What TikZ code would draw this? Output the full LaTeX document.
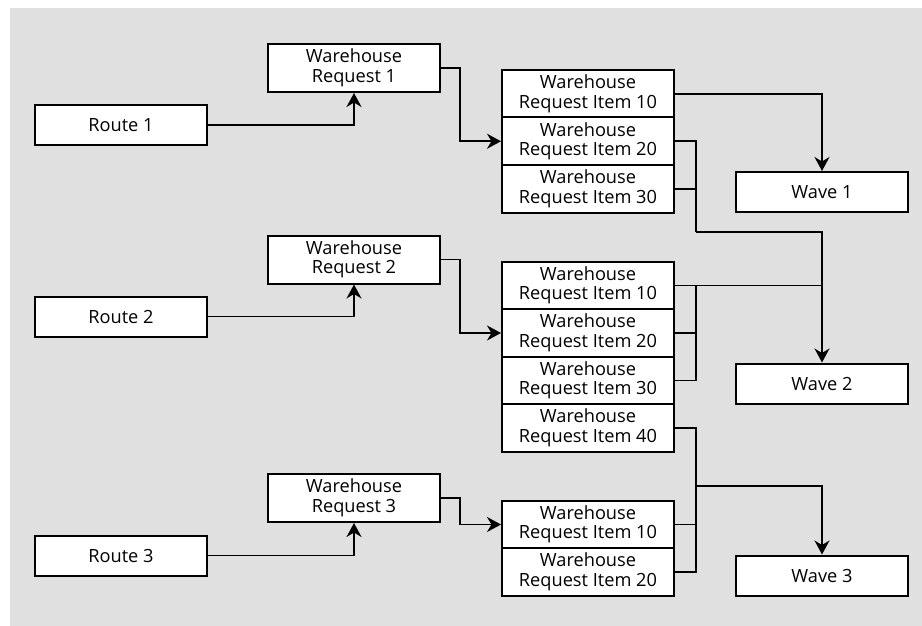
\documentclass[tikz,border=0pt]{standalone}
\usepackage{fontspec}
\setmainfont{Open Sans}
\usetikzlibrary{arrows.meta,calc}
\begin{document}
\begin{tikzpicture}[x=1pt,y=-1pt,
  box/.style={draw=black,fill=white,line width=2pt,minimum width=172pt,inner sep=0pt,align=center,font=\fontsize{18.2}{19.5}\selectfont},
  rbox/.style={box,minimum height=40pt},
  wbox/.style={box,minimum height=48pt},
  ibox/.style={box,minimum height=47.5pt},
  conn/.style={line width=1.8pt,draw=black},
  arr/.style={conn,-{Stealth[length=14pt,width=15pt,inset=4.5pt]}}]
\useasboundingbox (0,0) rectangle (922,626);
\fill[white] (0,0) rectangle (922,626);
\fill[black!12] (10,8) rectangle (922,626);
% routes
\node[rbox] (r1) at (121,125) {Route 1};
\node[rbox] (r2) at (121,316.5) {Route 2};
\node[rbox] (r3) at (121,555.5) {Route 3};
% warehouse requests
\node[wbox] (wr1) at (354,68) {Warehouse\\Request 1};
\node[wbox] (wr2) at (354,259.5) {Warehouse\\Request 2};
\node[wbox] (wr3) at (354,498) {Warehouse\\Request 3};
% items group 1
\node[ibox] (g1a) at (588,93.75) {Warehouse\\Request Item 10};
\node[ibox] (g1b) at (588,141.25) {Warehouse\\Request Item 20};
\node[ibox] (g1c) at (588,188.75) {Warehouse\\Request Item 30};
% items group 2
\node[ibox] (g2a) at (588,285.5) {Warehouse\\Request Item 10};
\node[ibox] (g2b) at (588,333) {Warehouse\\Request Item 20};
\node[ibox] (g2c) at (588,380.5) {Warehouse\\Request Item 30};
\node[ibox] (g2d) at (588,428) {Warehouse\\Request Item 40};
% items group 3
\node[ibox] (g3a) at (588,524.5) {Warehouse\\Request Item 10};
\node[ibox] (g3b) at (588,572) {Warehouse\\Request Item 20};
% waves
\node[rbox] (w1) at (822,192) {Wave 1};
\node[rbox] (w2) at (822,383.5) {Wave 2};
\node[rbox] (w3) at (822,575.5) {Wave 3};
% junction coordinates
\coordinate (c1) at (696,232);
\coordinate (c4) at (696,486);
\coordinate (k1) at (460,68);
\coordinate (k2) at (460,259.5);
\coordinate (k3) at (460,498);
% route -> request
\draw[arr] (r1.east) -| (wr1.south);
\draw[arr] (r2.east) -| (wr2.south);
\draw[arr] (r3.east) -| (wr3.south);
% request -> items
\draw[arr] (wr1.east) -- (k1) |- (g1b.west);
\draw[arr] (wr2.east) -- (k2) |- (g2b.west);
\draw[arr] (wr3.east) -- (k3) |- (g3a.west);
% wave 1
\draw[arr] (g1a.east) -| (w1.north);
% wave 2
\draw[conn] (g1b.east) -| (c1);
\draw[conn] (g1c.east) -- (g1c.east -| c1);
\draw[arr] (c1) -| (w2.north);
\draw[conn] (g2a.east) -- (g2a.east -| w2.north);
\draw[conn] (g2a.east -| c1) |- (g2c.east);
\draw[conn] (g2b.east) -- (g2b.east -| c1);
% wave 3
\draw[conn] (g2d.east) -| (g3b.east -| c4) -- (g3b.east);
\draw[conn] (g3a.east) -- (g3a.east -| c4);
\draw[arr] (c4) -| (w3.north);
\end{tikzpicture}
\end{document}
